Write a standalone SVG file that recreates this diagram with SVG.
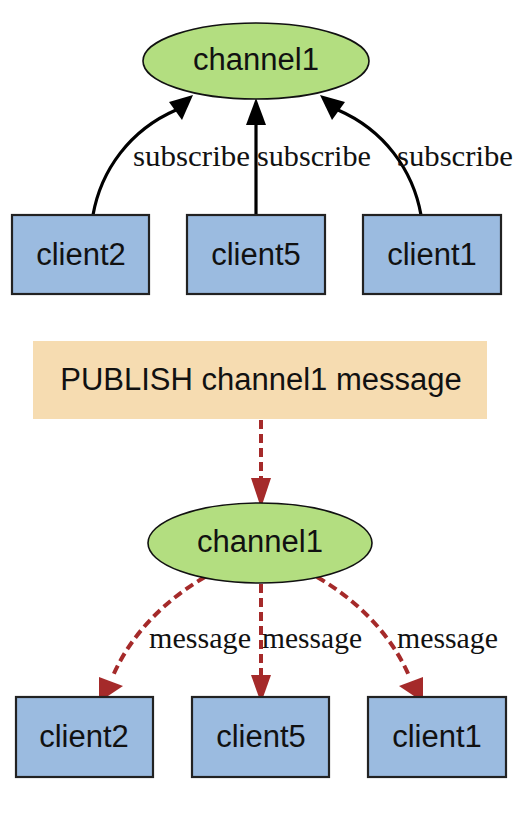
<svg xmlns="http://www.w3.org/2000/svg" width="526" height="824" viewBox="0 0 526 824">
<style>
.ell{fill:#b3de80;stroke:#111;stroke-width:1.6}
.box{fill:#9bbbe0;stroke:#222;stroke-width:2.2}
.pub{fill:#f6dcb1}
.nt{font-family:"Liberation Sans",Arial,sans-serif;font-size:31px;fill:#111;text-anchor:middle}
.lb{font-family:"Liberation Serif","Times New Roman",serif;font-size:30px;fill:#111}
.sub{fill:none;stroke:#000;stroke-width:3.2}
.msg{fill:none;stroke:#a52a2a;stroke-width:4;stroke-dasharray:9 5}
</style>
<rect width="526" height="824" fill="#fff"/>
<g id="connectors">
<path class="sub" d="M93,215 C101,170 130,130 176,110"/>
<polygon points="193,95 169,102 182,120" fill="#000"/>
<line class="sub" x1="256" y1="215" x2="256" y2="122"/>
<polygon points="256,98 246,125 266,125" fill="#000"/>
<path class="sub" d="M421,215 C413,170 384,130 338,110"/>
<polygon points="320,95 345,102 332,120" fill="#000"/>
<line class="msg" x1="261" y1="420" x2="261" y2="480"/>
<polygon points="261,508 251,478 271,478" fill="#a52a2a"/>
<path class="msg" d="M205,577 C165,600 130,635 112,678"/>
<polygon points="99,702 99,677 123,686" fill="#a52a2a"/>
<line class="msg" x1="261" y1="584" x2="261" y2="676"/>
<polygon points="261,703 251,675 271,675" fill="#a52a2a"/>
<path class="msg" d="M317,577 C357,600 392,635 410,678"/>
<polygon points="423,702 399,686 423,677" fill="#a52a2a"/>
<text class="lb" x="133" y="166" textLength="117" lengthAdjust="spacingAndGlyphs">subscribe</text>
<text class="lb" x="257" y="166" textLength="114" lengthAdjust="spacingAndGlyphs">subscribe</text>
<text class="lb" x="397" y="166" textLength="116" lengthAdjust="spacingAndGlyphs">subscribe</text>
<text class="lb" x="149" y="648" textLength="102" lengthAdjust="spacingAndGlyphs">message</text>
<text class="lb" x="262" y="648" textLength="100" lengthAdjust="spacingAndGlyphs">message</text>
<text class="lb" x="397" y="648" textLength="101" lengthAdjust="spacingAndGlyphs">message</text>
</g>
<g id="channel1-top">
<ellipse class="ell" cx="256" cy="61" rx="113" ry="38"/>
<text class="nt" x="256" y="70">channel1</text>
</g>
<g id="client2-top">
<rect class="box" x="12" y="215" width="137" height="79"/>
<text class="nt" x="81" y="265">client2</text>
</g>
<g id="client5-top">
<rect class="box" x="187" y="215" width="138" height="79"/>
<text class="nt" x="256" y="265">client5</text>
</g>
<g id="client1-top">
<rect class="box" x="363" y="215" width="138" height="79"/>
<text class="nt" x="432" y="265">client1</text>
</g>
<g id="publish">
<rect class="pub" x="33" y="341" width="454" height="78"/>
<text class="nt" x="261" y="390">PUBLISH channel1 message</text>
</g>
<g id="channel1-bottom">
<ellipse class="ell" cx="260" cy="543" rx="112" ry="40"/>
<text class="nt" x="260" y="552">channel1</text>
</g>
<g id="client2-bottom">
<rect class="box" x="16" y="697" width="137" height="80"/>
<text class="nt" x="84" y="747">client2</text>
</g>
<g id="client5-bottom">
<rect class="box" x="192" y="697" width="137" height="80"/>
<text class="nt" x="261" y="747">client5</text>
</g>
<g id="client1-bottom">
<rect class="box" x="368" y="697" width="138" height="80"/>
<text class="nt" x="437" y="747">client1</text>
</g>
</svg>
